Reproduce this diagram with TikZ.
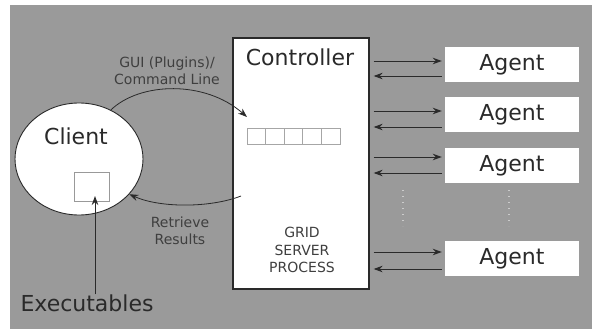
\documentclass[tikz,border=0pt]{standalone}
\usepackage{fontspec}
\setmainfont{DejaVu Sans}
\usetikzlibrary{arrows.meta,shapes.geometric}
\definecolor{bg}{HTML}{9A9A9A}
\definecolor{ink}{HTML}{2A2A2A}
\begin{document}
\begin{tikzpicture}[x=1pt,y=-1pt,
  big/.style={font=\fontsize{22}{26}\selectfont, text=ink, inner sep=0pt},
  small/.style={font=\fontsize{14}{17.5}\selectfont, text=ink!90, inner sep=0pt, align=center},
  arr/.style={draw=ink, line width=0.9pt, -{Stealth[length=9pt,width=6.5pt]}},
  agentbox/.style={fill=white, minimum width=134pt, minimum height=35pt, inner sep=0pt,
                   font=\fontsize{22}{26}\selectfont, text=ink},
  cell/.style={draw=black!35, fill=white, line width=0.7pt, minimum width=18.6pt,
               minimum height=16pt, inner sep=0pt},
  dotline/.style={draw=black!20, line width=1.2pt, dash pattern=on 1pt off 5pt}]
\useasboundingbox (0,0) rectangle (592,329);
\fill[white] (0,0) rectangle (592,329);
\fill[bg] (10,5) rectangle (592,329);

% controller
\node[draw=ink, line width=1.3pt, fill=white, minimum width=136pt, minimum height=251pt,
      inner sep=0pt] (ctrl) at (301,163.5) {};
\node[big] (ctl) at (300,57) {Controller};
\node[small] (gsp) at (302,250) {GRID\\SERVER\\PROCESS};
\foreach \i in {0,...,4}
  \node[cell] (q\i) at ({256.3+18.6*\i},136) {};

% client
\node[ellipse, draw=ink, line width=0.9pt, fill=white, minimum width=128pt,
      minimum height=112pt, inner sep=0pt] (cl) at (79,159) {};
\node[big] (clt) at (76,136) {Client};
\node[draw=black!40, fill=white, line width=0.8pt, minimum width=35pt, minimum height=29pt,
      inner sep=0pt] (ex) at (91.5,186.5) {};
\node[big] (exl) at (87,303) {Executables};
\coordinate (extip) at (95,196);
\draw[arr] (exl.north -| extip) -- (extip);

% agents
\foreach \n/\y in {1/64.5,2/114.5,3/165.5,4/258.5}
  \node[agentbox] (a\n) at (512,\y) {Agent};
\foreach \n/\o/\i in {1/3.5/-11.5, 2/3.5/-12.5, 3/8.5/-7.5, 4/6.5/-10.5} {
  \draw[arr, shorten <=4pt, shorten >=3pt] ([yshift=\o pt]a\n.west -| ctrl.east) -- ([yshift=\o pt]a\n.west);
  \draw[arr, shorten <=3pt, shorten >=4pt] ([yshift=\i pt]a\n.west) -- ([yshift=\i pt]a\n.west -| ctrl.east);
}
\draw[dotline] (403,190) -- (403,226);
\draw[dotline] (509,190) -- (509,226);

% client <-> controller
\node[small] (gui) at (167,71) {GUI (Plugins)/\\Command Line};
\node[small] (ret) at (180,231) {Retrieve\\Results};
\coordinate (guiend) at (247,117);
\coordinate (resstart) at (241,196);
\draw[arr, line width=0.8pt] (cl.57) .. controls (140,82) and (205,80) .. (guiend);
\draw[arr, line width=0.8pt] (resstart) .. controls (210,208) and (160,208) .. (cl.-35);
\end{tikzpicture}
\end{document}
